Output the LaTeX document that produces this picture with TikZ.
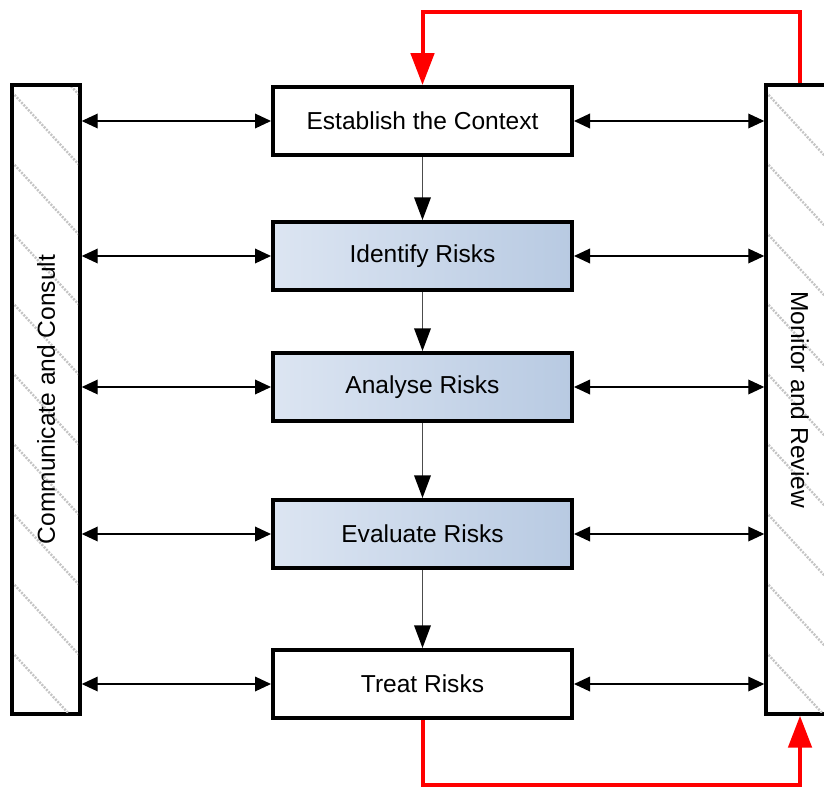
\documentclass[tikz,border=0pt]{standalone}
\usepackage{fontspec}
\setmainfont{Liberation Sans}
\usetikzlibrary{arrows.meta,shadows,calc}
\definecolor{boxlight}{HTML}{DCE5F2}
\definecolor{boxdark}{HTML}{B8CAE2}
\definecolor{hatch}{HTML}{C4C4C4}
\tikzset{
  stepbox/.style={draw=black, line width=3pt, minimum width=224.25pt, minimum height=51pt,
    inner sep=0pt, font=\fontsize{18.4}{20}\selectfont, fill=white,
    drop shadow={shadow xshift=-0.4pt, shadow yshift=-1.2pt, opacity=1, fill=black}},
  bluebox/.style={stepbox, left color=boxlight, right color=boxdark},
  sidebar/.style={draw=black, line width=2.6pt, minimum width=51pt, minimum height=471.75pt,
    inner sep=0pt, fill=white, font=\fontsize{18.4}{20}\selectfont},
  duo/.style={{Triangle[length=12pt,width=11pt]}-{Triangle[length=12pt,width=11pt]}, line width=1pt},
  flow/.style={-{Triangle[length=17pt,width=12.5pt,color=black]}, line width=1pt, draw=black!70},
  redline/.style={draw=red, line width=3pt, -{Triangle[length=24pt,width=17.5pt]}},
}
\begin{document}
\begin{tikzpicture}[x=0.75pt,y=-0.75pt]
\useasboundingbox (0,0) rectangle (824,789);
% side bars
\node[sidebar, drop shadow={shadow xshift=-1.6pt, shadow yshift=-1pt, opacity=1, fill=black}] (cc) at (46,399.5) {};
\node[sidebar, drop shadow={shadow xshift=-1.6pt, shadow yshift=1pt, opacity=1, fill=black}] (mr) at (800,399.5) {};
% hatching
\begin{scope}
  \clip (14,87) rectangle (78,712);
  \foreach \k in {20,90,...,720}
    \draw[hatch, line width=1.8pt, dash pattern=on 1.5pt off 1pt] (10,\k) -- (82,\k+78);
\end{scope}
\begin{scope}
  \clip (768,87) rectangle (832,712);
  \foreach \k in {20,90,...,720}
    \draw[hatch, line width=1.8pt, dash pattern=on 1.5pt off 1pt] (764,\k) -- (836,\k+78);
\end{scope}
\node[rotate=90, font=\fontsize{18.4}{20}\selectfont] (cct) at (cc.center) {Communicate and Consult};
\node[rotate=-90, font=\fontsize{18.4}{20}\selectfont] (mrt) at (mr.center) {Monitor and Review};
% boxes
\node[stepbox] (e1) at (422.5,121) {Establish the Context};
\node[bluebox] (e2) at (422.5,256) {Identify Risks};
\node[bluebox] (e3) at (422.5,387) {Analyse Risks};
\node[bluebox] (e4) at (422.5,534) {Evaluate Risks};
\node[stepbox] (e5) at (422.5,684) {Treat Risks};
% vertical flow
\draw[flow] (e1.south) -- (e2.north);
\draw[flow] (e2.south) -- (e3.north);
\draw[flow] (e3.south) -- (e4.north);
\draw[flow] (e4.south) -- (e5.north);
% horizontal double arrows
\foreach \b in {e1,e2,e3,e4,e5}{
  \draw[duo] (cc.east |- \b.west) -- (\b.west);
  \draw[duo] (\b.east) -- (mr.west |- \b.east);
}
% red feedback loops
\draw[redline] (mr.north) -- (800,12) -- (e1.north |- 0,12) -- (e1.north);
\draw[redline] (e5.south) -- (e5.south |- 0,785) -- (mr.south |- 0,785) -- (mr.south);
\end{tikzpicture}
\end{document}
